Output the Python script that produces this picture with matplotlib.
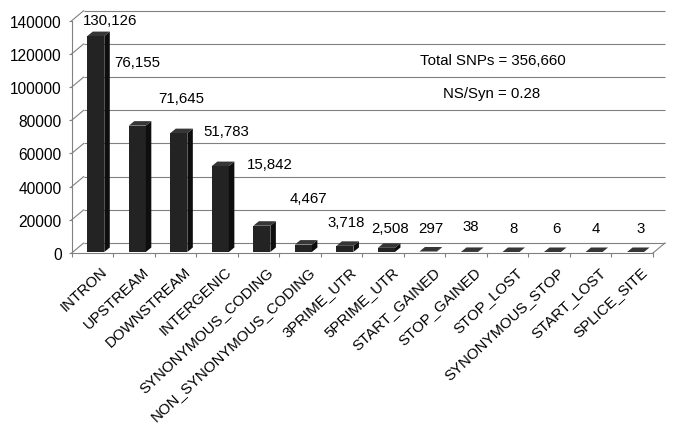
import numpy as np
import matplotlib
matplotlib.use("Agg")
import matplotlib.pyplot as plt
from matplotlib.transforms import ScaledTranslation

plt.rcParams['font.family'] = ['Liberation Sans', 'DejaVu Sans']

# ---------------- data ----------------
categories = ["INTRON", "UPSTREAM", "DOWNSTREAM", "INTERGENIC", "SYNONYMOUS_CODING",
              "NON_SYNONYMOUS_CODING", "3PRIME_UTR", "5PRIME_UTR", "START_GAINED",
              "STOP_GAINED", "STOP_LOST", "SYNONYMOUS_STOP", "START_LOST", "SPLICE_SITE"]
counts = [130126, 76155, 71645, 51783, 15842, 4467, 3718, 2508, 297, 38, 8, 6, 4, 3]
value_labels = ["130,126", "76,155", "71,645", "51,783", "15,842", "4,467", "3,718",
                "2,508", "297", "38", "8", "6", "4", "3"]
y_ticks = [0, 20000, 40000, 60000, 80000, 100000, 120000, 140000]
notes = ["Total SNPs = 356,660", "NS/Syn = 0.28"]

# ---------------- layout (pixel-based) ----------------
W, H, DPI = 677, 427, 100
X0, X1 = 71.7, 653.0      # front plane x extent (px)
Y0, Y1 = 254.0, 21.7      # front plane y (0 and 140000) in px
YMAX = 140000
n = len(categories)

fig = plt.figure(figsize=(W / DPI, H / DPI), dpi=DPI)
ax = fig.add_axes([X0 / W, (H - Y0) / H, (X1 - X0) / W, (Y0 - Y1) / H])
ax.set_xlim(-0.5, n - 0.5)
ax.set_ylim(0, YMAX)

ux = n / (X1 - X0)          # data x units per px
uy = YMAX / (Y0 - Y1)       # data y units per px

DX, DY = 12 * ux, 10 * uy   # wall depth offset
grid_c = '#808080'
lw = 0.8

# back wall gridlines + side diagonals
for t in y_ticks:
    ax.plot([-0.5 + DX, n - 0.5 + DX], [t + DY, t + DY], color=grid_c, lw=lw,
            clip_on=False, zorder=1, solid_capstyle='butt')
    ax.plot([-0.5, -0.5 + DX], [t, t + DY], color=grid_c, lw=lw, clip_on=False, zorder=1)
# floor right diagonal
ax.plot([n - 0.5, n - 0.5 + DX], [0, DY], color=grid_c, lw=lw, clip_on=False, zorder=1)

# bars (pseudo-3D)
x = np.arange(n)
bx = 0.08              # front-face shift within category
bw = 0.41              # front-face width
lift = 1 * uy
bdx, bdy = 5.5 * ux, 4.5 * uy
ax.bar(x + bx, counts, width=bw, bottom=lift, color='#232323', edgecolor='none',
       zorder=3, clip_on=False)
for xi, v in zip(x, counts):
    xl = xi + bx - bw / 2
    xr = xi + bx + bw / 2
    b = lift
    t = lift + v
    # side face
    ax.fill([xr, xr + bdx, xr + bdx, xr], [b, b + bdy, t + bdy, t],
            color='#0e0e0e', lw=0, zorder=3, clip_on=False)
    # top face
    ax.fill([xl, xr, xr + bdx, xl + bdx], [t, t, t + bdy, t + bdy],
            color='#363636', lw=0, zorder=4, clip_on=False)

# value labels (hand-placed as in the original)
label_dx_px = [17.5, 3, 5.5, 8.7, 11.5, 8.5, 4.4, 7.4, 6.4, 5, 6.3, 6.8, 5.3, 8.7]
label_y = [140400, 115100, 93700, 73800, 53600, 33400, 18700, 15100, 15100,
           16000, 15100, 15100, 15100, 15100]
for xi, lab, dxp, ly in zip(x, value_labels, label_dx_px, label_y):
    ax.text(xi + dxp * ux, ly, lab, ha='center', va='center', fontsize=10.8,
            color='black', zorder=6, clip_on=False)

# notes
ax.text(9.64, 116300, notes[0], ha='center', va='center', fontsize=10.8, zorder=6)
ax.text(9.62, 96400, notes[1], ha='center', va='center', fontsize=10.8, zorder=6)

# axes styling
for s in ['top', 'right']:
    ax.spines[s].set_visible(False)
for s in ['left', 'bottom']:
    ax.spines[s].set_color(grid_c)
    ax.spines[s].set_linewidth(lw)

ax.set_yticks(y_ticks)
ax.set_yticklabels([str(t) for t in y_ticks])
ax.tick_params(axis='y', length=2.5, width=lw, color=grid_c, pad=4.8, labelsize=11.2)

# category boundaries as tick marks, category names as rotated texts
ax.set_xticks(np.arange(-0.5, n, 1.0))
ax.tick_params(axis='x', which='major', length=3.0, width=lw, color=grid_c,
               labelbottom=False)
lab_tr = ax.get_xaxis_transform() + ScaledTranslation(8 / DPI, -11 / DPI,
                                                      fig.dpi_scale_trans)
for xi, cat in zip(x, categories):
    ax.text(xi, 0, cat, rotation=43, ha='right', va='top', rotation_mode='anchor',
            fontsize=10.8, transform=lab_tr, clip_on=False)

fig.savefig('out.png', dpi=DPI)
